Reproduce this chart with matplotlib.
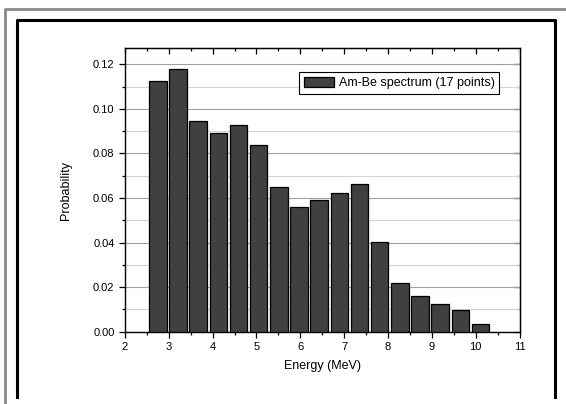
import numpy as np
import matplotlib
matplotlib.use("Agg")
import matplotlib.pyplot as plt
from matplotlib.lines import Line2D
from matplotlib.ticker import MultipleLocator, FormatStrFormatter

plt.rcParams['font.family'] = ['Liberation Sans', 'DejaVu Sans']

# Am-Be spectrum, 17 energy bins (MeV) and their probabilities
energy = [2.75, 3.21, 3.67, 4.13, 4.59, 5.05, 5.51, 5.97, 6.43,
          6.89, 7.35, 7.81, 8.27, 8.73, 9.19, 9.65, 10.11]
prob = [0.1127, 0.1178, 0.0946, 0.0892, 0.0928, 0.0836, 0.0648, 0.0560, 0.0590,
        0.0621, 0.0663, 0.0401, 0.0217, 0.0159, 0.0123, 0.0097, 0.0036]
legend_label = "Am-Be spectrum (17 points)"

W, H = 566, 404
fig = plt.figure(figsize=(W / 100, H / 100), dpi=100)

# outer frames (pixel coords -> figure coords)
def px_line(x, y, **kw):
    fig.add_artist(Line2D([v / W for v in x], [1 - v / H for v in y],
                          transform=fig.transFigure, **kw))

px_line([5, 5, W], [H, 9, 9], color="#8a8a8a", lw=2)
px_line([17, 17, 555, 555], [397, 20, 20, 397], color="black", lw=2.2)

ax = fig.add_axes([125 / W, 1 - 331.7 / H, (519.5 - 125) / W, (331.7 - 48.3) / H])

ax.bar(energy, prob, width=0.40, color="#404040", edgecolor="black",
       linewidth=0.9, label=legend_label, zorder=3)

ax.set_xlim(2, 11)
ax.set_ylim(0, 0.1272)
ax.xaxis.set_major_locator(MultipleLocator(1))
ax.xaxis.set_minor_locator(MultipleLocator(0.5))
ax.yaxis.set_major_locator(MultipleLocator(0.02))
ax.yaxis.set_minor_locator(MultipleLocator(0.01))
ax.yaxis.set_major_formatter(FormatStrFormatter("%.2f"))

ax.grid(axis="y", which="major", color="#a0a0a0", lw=0.8, zorder=0)
ax.grid(axis="y", which="minor", color="#d4d4d4", lw=0.8, zorder=0)

ax.tick_params(which="both", direction="out", labelsize=8, width=0.9, colors="black")
ax.tick_params(which="major", length=4)
ax.tick_params(which="minor", length=2.5)
for s in ax.spines.values():
    s.set_linewidth(1.0)

top = ax.secondary_xaxis("top")
top.xaxis.set_major_locator(MultipleLocator(1))
top.xaxis.set_minor_locator(MultipleLocator(0.5))
top.tick_params(which="both", direction="in", labeltop=False, width=0.9)
top.tick_params(which="major", length=4)
top.tick_params(which="minor", length=2.5)

right = ax.secondary_yaxis("right")
right.yaxis.set_major_locator(MultipleLocator(0.02))
right.yaxis.set_minor_locator(MultipleLocator(0.01))
right.tick_params(which="both", direction="in", labelright=False, width=0.9)
right.tick_params(which="major", length=4)
right.tick_params(which="minor", length=2.5)

ax.set_xlabel("Energy (MeV)", fontsize=9, labelpad=6)
ax.set_ylabel("Probability", fontsize=9, labelpad=15)

leg = ax.legend(loc="upper right", bbox_to_anchor=(0.948, 0.915), borderaxespad=0,
                fancybox=False, framealpha=1, edgecolor="black", fontsize=9,
                handlelength=2.4, handleheight=0.9, borderpad=0.35, handletextpad=0.4)
leg.get_frame().set_linewidth(0.8)

fig.savefig("out.png", dpi=100)
